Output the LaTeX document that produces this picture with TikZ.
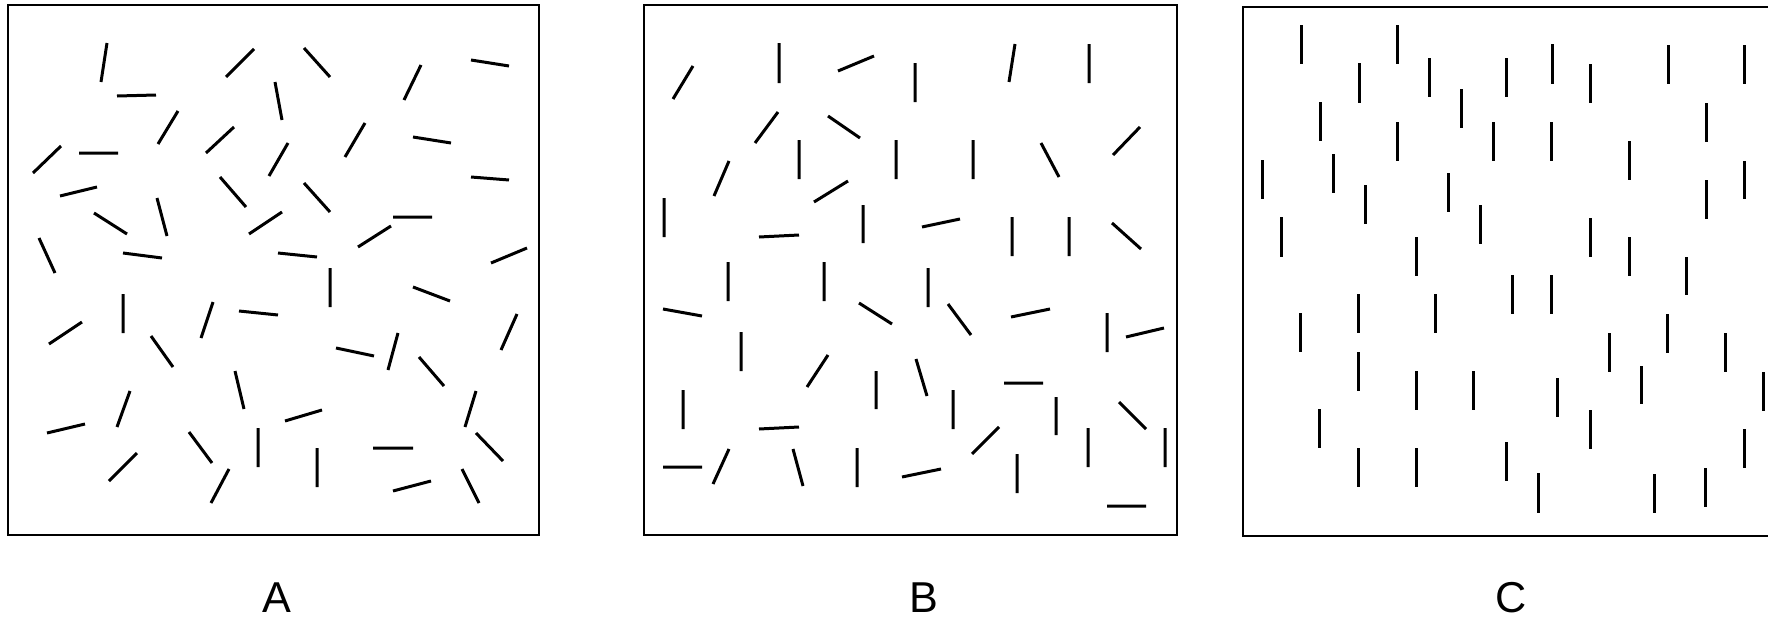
\documentclass[tikz,border=0pt]{standalone}
\usepackage{fontspec}
\setmainfont{Liberation Sans}
\usepackage{tikz}
\tikzset{frame/.style={draw=black, line width=1.4pt},
  bar/.style={draw=black, line width=1.5pt},
  panellabel/.style={font=\fontsize{21.6}{26}\selectfont, inner sep=0pt}}

\begin{document}
\begin{tikzpicture}[x=0.5pt, y=-0.5pt]
  \useasboundingbox (0,0) rectangle (1768,621);

  % panel A: random orientations
  \draw[frame] (8,5) rectangle (539,535);
  \draw[bar] (107,43)--(101,82) (117,96)--(156,95) (226,77)--(254,49)
    (178,111)--(158,144) (206,153)--(234,127) (33,173)--(61,146)
    (79,153)--(118,153) (60,196)--(97,187) (94,213)--(127,234)
    (157,198)--(167,236) (220,177)--(246,207) (249,234)--(282,212)
    (39,238)--(55,273) (123,253)--(162,258) (269,176)--(288,143)
    (275,82)--(282,120) (304,48)--(330,77) (421,65)--(404,100)
    (471,60)--(509,66) (365,123)--(345,157) (413,137)--(451,143)
    (471,177)--(509,180) (304,183)--(330,212) (393,217)--(432,217)
    (358,247)--(391,226) (278,253)--(317,257) (491,263)--(527,248)
    (330,268)--(330,307) (49,344)--(82,322) (123,294)--(123,333)
    (213,302)--(201,338) (239,311)--(278,315) (151,336)--(173,367)
    (235,371)--(244,409) (130,391)--(117,427) (47,433)--(85,424)
    (189,432)--(212,463) (258,428)--(258,467) (109,481)--(137,453)
    (229,469)--(211,503) (413,287)--(450,301) (517,314)--(501,350)
    (336,348)--(374,356) (398,333)--(388,370) (419,357)--(444,386)
    (476,391)--(465,427) (285,421)--(322,410) (476,433)--(503,461)
    (373,448)--(413,448) (317,448)--(317,487) (393,491)--(431,481)
    (462,469)--(479,503);
  \node[panellabel] (labA) at (277,598) {A};

  % panel B: partly aligned
  \draw[frame] (644,5) rectangle (1177,535);
  \draw[bar] (693,66)--(673,99) (779,43)--(779,83) (838,71)--(874,56)
    (778,112)--(755,143) (828,116)--(860,138) (799,140)--(799,179)
    (896,140)--(896,179) (729,161)--(714,196) (848,181)--(814,202)
    (664,198)--(664,237) (759,237)--(799,235) (863,205)--(863,243)
    (728,262)--(728,301) (824,262)--(824,301) (915,63)--(915,102)
    (1015,44)--(1009,82) (1089,44)--(1089,83) (973,140)--(973,179)
    (1041,143)--(1059,177) (1140,127)--(1113,155) (922,227)--(960,219)
    (1012,217)--(1012,256) (1069,217)--(1069,256) (1112,223)--(1141,249)
    (928,268)--(928,307) (663,309)--(702,316) (859,303)--(892,324)
    (741,332)--(741,371) (828,355)--(807,387) (876,371)--(876,409)
    (683,390)--(683,429) (759,429)--(799,427) (663,467)--(702,467)
    (729,449)--(713,484) (793,449)--(803,486) (857,448)--(857,487)
    (902,477)--(941,469) (948,304)--(971,335) (1011,317)--(1050,309)
    (1107,313)--(1107,352) (1126,337)--(1164,328) (916,359)--(927,396)
    (953,390)--(953,429) (1004,383)--(1043,383) (1056,397)--(1056,435)
    (1119,402)--(1146,429) (999,427)--(972,454) (1088,428)--(1088,467)
    (1165,428)--(1165,467) (1017,454)--(1017,493) (1107,506)--(1146,506);
  \node[panellabel] (labB) at (924,598) {B};

  % panel C: all vertical
  \draw[frame] (1768,7) -- (1243,7) -- (1243,536) -- (1768,536);
  \draw[bar] (1301,25)--(1301,64) (1397,25)--(1397,64) (1359,63)--(1359,103)
    (1429,58)--(1429,97) (1461,89)--(1461,128) (1320,102)--(1320,141)
    (1397,122)--(1397,161) (1493,122)--(1493,161) (1262,160)--(1262,199)
    (1333,154)--(1333,193) (1365,185)--(1365,224) (1448,173)--(1448,212)
    (1480,205)--(1480,244) (1281,217)--(1281,257) (1416,237)--(1416,276)
    (1506,58)--(1506,97) (1552,44)--(1552,84) (1590,64)--(1590,103)
    (1668,45)--(1668,84) (1744,45)--(1744,84) (1706,103)--(1706,142)
    (1551,122)--(1551,161) (1629,141)--(1629,180) (1744,161)--(1744,199)
    (1706,180)--(1706,219) (1590,218)--(1590,257) (1629,237)--(1629,276)
    (1686,257)--(1686,295) (1512,275)--(1512,314) (1551,275)--(1551,314)
    (1300,313)--(1300,352) (1358,294)--(1358,333) (1435,294)--(1435,333)
    (1358,352)--(1358,391) (1416,371)--(1416,410) (1473,371)--(1473,410)
    (1319,409)--(1319,448) (1358,448)--(1358,487) (1416,448)--(1416,487)
    (1506,442)--(1506,481) (1609,333)--(1609,372) (1667,314)--(1667,353)
    (1725,333)--(1725,372) (1557,378)--(1557,417) (1641,366)--(1641,404)
    (1763,372)--(1763,411) (1590,410)--(1590,449) (1538,473)--(1538,513)
    (1654,474)--(1654,513) (1705,468)--(1705,507) (1744,429)--(1744,468);
  \node[panellabel] (labC) at (1511,598) {C};
\end{tikzpicture}
\end{document}
